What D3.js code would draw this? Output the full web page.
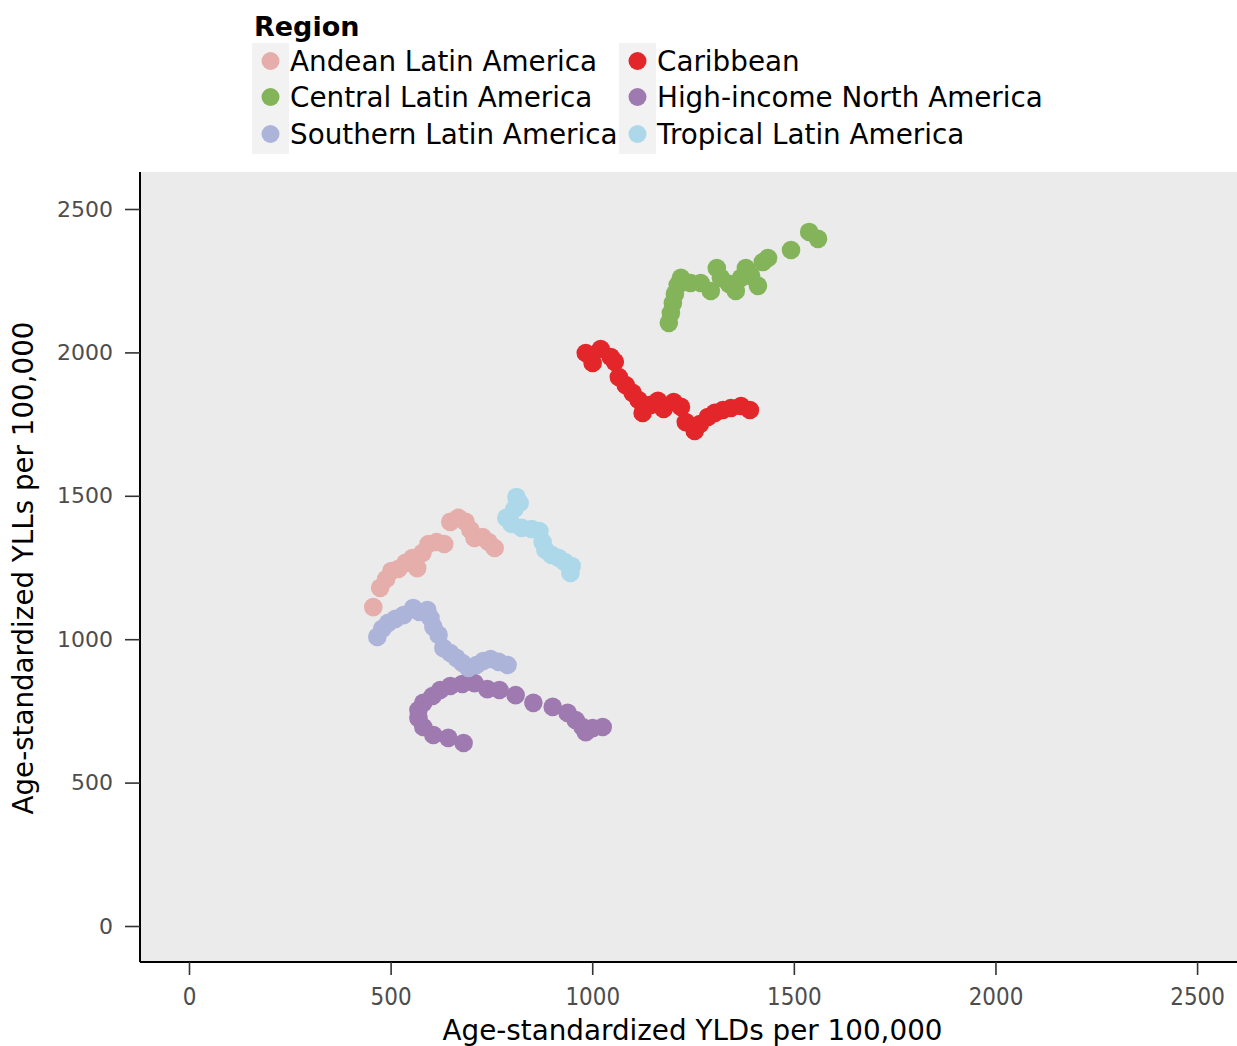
<!DOCTYPE html>
<html>
<head>
<meta charset="utf-8">
<script src="https://cdn.jsdelivr.net/npm/d3@7"></script>
<style>
  html, body { margin: 0; padding: 0; background: #ffffff; }
  svg { display: block; font-family: "DejaVu Sans", sans-serif; }
</style>
</head>
<body>
<svg id="chart" width="1237" height="1046"></svg>
<script>
// Region names, in legend order
const regions = [
  "Andean Latin America", "Caribbean",
  "Central Latin America", "High-income North America",
  "Southern Latin America", "Tropical Latin America"
];
const regionColors = ["#e5aeaa", "#e3262a", "#84b45a", "#9e7ab0", "#adb4da", "#add8ea"];

// Age-standardized YLDs (x) and YLLs (y) per 100,000, one trajectory per region
const andeanYLD = [457, 474, 489, 502, 519, 537, 554, 566, 579, 594, 614, 633, 648, 668, 686, 698, 708, 728, 743, 758];
const andeanYLL = [1112, 1179, 1210, 1238, 1245, 1266, 1283, 1248, 1301, 1332, 1339, 1332, 1409, 1423, 1409, 1381, 1353, 1356, 1339, 1318];

const caribbeanYLD = [984, 1001, 1021, 1046, 1056, 1066, 1083, 1100, 1115, 1125, 1145, 1163, 1177, 1202, 1220, 1232, 1254, 1267, 1287, 1304, 1324, 1344, 1369, 1391];
const caribbeanYLL = [1998, 1963, 2012, 1984, 1967, 1914, 1886, 1859, 1834, 1789, 1817, 1831, 1803, 1827, 1810, 1757, 1726, 1750, 1775, 1789, 1799, 1806, 1813, 1799];

const centralYLD = [1190, 1195, 1200, 1205, 1212, 1220, 1230, 1244, 1269, 1294, 1309, 1319, 1339, 1356, 1369, 1381, 1394, 1411, 1423, 1436, 1493, 1538, 1560];
const centralYLL = [2103, 2137, 2172, 2204, 2235, 2260, 2246, 2242, 2242, 2214, 2294, 2260, 2239, 2214, 2260, 2294, 2267, 2232, 2315, 2329, 2357, 2420, 2396];

const northAmericaYLD = [681, 643, 606, 581, 569, 569, 581, 604, 623, 648, 678, 708, 740, 770, 810, 854, 902, 939, 959, 976, 984, 1001, 1026];
const northAmericaYLL = [638, 656, 666, 694, 725, 753, 778, 802, 823, 837, 844, 847, 826, 823, 805, 778, 764, 743, 718, 694, 676, 690, 694];

const southernYLD = [467, 479, 494, 512, 532, 556, 571, 591, 599, 606, 619, 631, 648, 663, 678, 693, 713, 730, 748, 768, 790];
const southernYLL = [1008, 1036, 1057, 1071, 1084, 1109, 1095, 1102, 1074, 1043, 1015, 969, 952, 935, 917, 900, 910, 924, 931, 921, 910];

const tropicalYLD = [812, 820, 807, 787, 800, 825, 850, 869, 877, 884, 899, 917, 932, 949, 946];
const tropicalYLL = [1496, 1475, 1454, 1423, 1402, 1388, 1384, 1377, 1339, 1311, 1294, 1283, 1269, 1255, 1231];

const seriesYLD = [andeanYLD, caribbeanYLD, centralYLD, northAmericaYLD, southernYLD, tropicalYLD];
const seriesYLL = [andeanYLL, caribbeanYLL, centralYLL, northAmericaYLL, southernYLL, tropicalYLL];

const tickValues = [0, 500, 1000, 1500, 2000, 2500];

const xTitle = "Age-standardized YLDs per 100,000";
const yTitle = "Age-standardized YLLs per 100,000";
const legendTitle = "Region";

// ---- layout ----
const svg = d3.select("#chart");
const panel = { left: 140, right: 1237, top: 172, bottom: 962 };

const x = d3.scaleLinear().domain([-121.5, 2599]).range([panel.left, panel.right]);
const y = d3.scaleLinear().domain([-125.5, 2629]).range([panel.bottom, panel.top]);

// panel background
svg.append("rect")
  .attr("x", panel.left).attr("y", panel.top)
  .attr("width", panel.right - panel.left).attr("height", panel.bottom - panel.top)
  .attr("fill", "#ebebeb");

// points, one layer per region
const pointsLayer = svg.append("g");
regions.forEach((name, i) => {
  const pts = seriesYLD[i].map((v, k) => ({ x: v, y: seriesYLL[i][k] }));
  pointsLayer.append("g")
    .attr("fill", regionColors[i])
    .selectAll("circle")
    .data(pts)
    .join("circle")
    .attr("cx", d => x(d.x))
    .attr("cy", d => y(d.y))
    .attr("r", 9.3);
});

// axes
const xAxis = svg.append("g")
  .attr("transform", `translate(0,${panel.bottom})`)
  .call(d3.axisBottom(x).tickValues(tickValues).tickFormat(d3.format("d")).tickSize(13).tickPadding(12));
xAxis.select(".domain").attr("stroke", "#000").attr("stroke-width", 2);
xAxis.selectAll(".tick line").attr("stroke", "#333").attr("stroke-width", 1.6);
xAxis.selectAll(".tick text")
  .attr("fill", "#4d4d4d")
  .attr("font-size", 25)
  .attr("font-family", "DejaVu Sans")
  .attr("transform", "scale(0.86,1)");

const yAxis = svg.append("g")
  .attr("transform", `translate(${panel.left},0)`)
  .call(d3.axisLeft(y).tickValues(tickValues).tickFormat(d3.format("d")).tickSize(15).tickPadding(12));
yAxis.select(".domain").attr("stroke", "#000").attr("stroke-width", 2);
yAxis.selectAll(".tick line").attr("stroke", "#333").attr("stroke-width", 1.6);
yAxis.selectAll(".tick text")
  .attr("fill", "#4d4d4d")
  .attr("font-size", 22)
  .attr("font-family", "DejaVu Sans");

// straight axis lines without end-caps
xAxis.select(".domain").attr("d", `M${panel.left},0H${panel.right}`);
yAxis.select(".domain").attr("d", `M0,${panel.top}V${panel.bottom}`);

// axis titles
svg.append("text")
  .attr("x", (panel.left + panel.right) / 2 + 4)
  .attr("y", 1040)
  .attr("text-anchor", "middle")
  .attr("font-size", 29)
  .attr("textLength", 500)
  .attr("lengthAdjust", "spacingAndGlyphs")
  .attr("fill", "#000")
  .text(xTitle);

svg.append("text")
  .attr("transform", `translate(33,${568}) rotate(-90)`)
  .attr("text-anchor", "middle")
  .attr("font-size", 29)
  .attr("textLength", 493)
  .attr("lengthAdjust", "spacingAndGlyphs")
  .attr("fill", "#000")
  .text(yTitle);

// legend
const legend = svg.append("g");
legend.append("text")
  .attr("x", 254).attr("y", 36)
  .attr("font-size", 27)
  .attr("font-weight", "bold")
  .attr("fill", "#000")
  .text(legendTitle);

const colX = [252, 619];
const rowY = [61, 97, 134];
const keyW = 37;

colX.forEach(cx => {
  legend.append("rect")
    .attr("x", cx).attr("y", 43)
    .attr("width", keyW).attr("height", 111)
    .attr("fill", "#f2f2f2");
});

regions.forEach((name, i) => {
  const col = i % 2, row = Math.floor(i / 2);
  const g = legend.append("g").attr("transform", `translate(${colX[col]},${rowY[row]})`);
  g.append("circle")
    .attr("cx", keyW / 2).attr("cy", 0).attr("r", 9)
    .attr("fill", regionColors[i]);
  g.append("text")
    .attr("x", keyW + 1).attr("y", 0)
    .attr("dy", "0.36em")
    .attr("font-size", 27.8)
    .attr("fill", "#000")
    .text(name);
});
</script>
</body>
</html>
